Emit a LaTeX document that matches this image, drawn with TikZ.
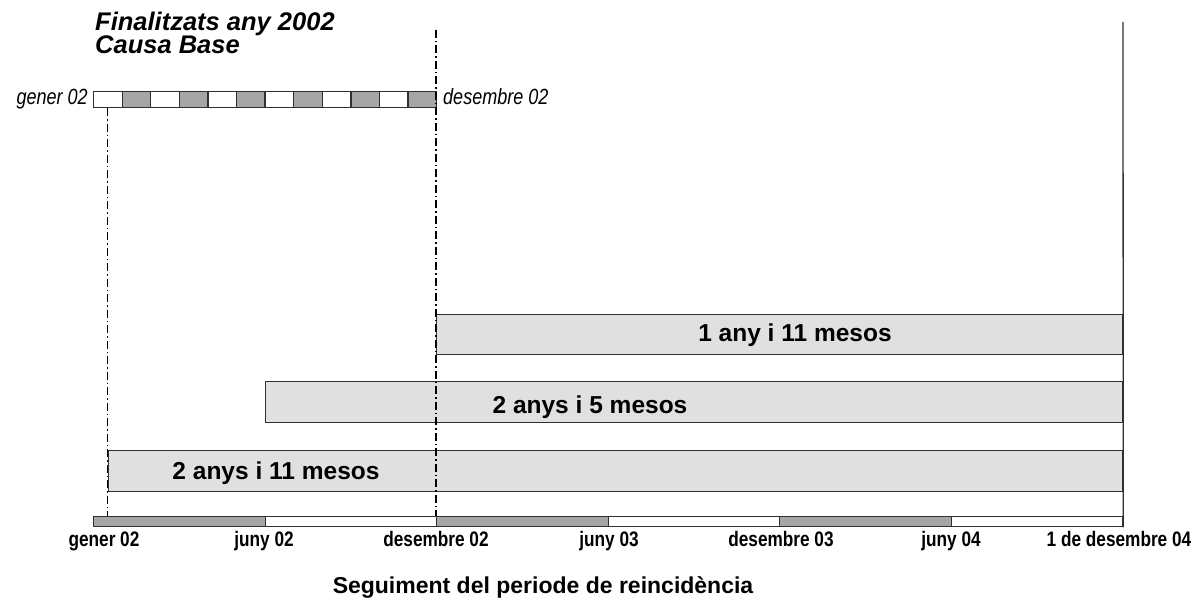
\documentclass[tikz,border=0pt]{standalone}
\usepackage{fontspec}
\setmainfont{Liberation Sans}
\newfontfamily\narrowfont[FakeStretch=0.82]{Liberation Sans}
\usetikzlibrary{positioning}

\definecolor{cellgray}{HTML}{A6A6A6}
\definecolor{barfill}{HTML}{E0E0E0}
\definecolor{edge}{HTML}{303030}

\tikzset{
  cellbox/.style={draw=edge, line width=1.3pt, minimum width=28.58pt, minimum height=16pt, inner sep=0pt, anchor=north west},
  axisseg/.style={draw=edge, line width=1.3pt, minimum width=171.5pt, minimum height=10pt, inner sep=0pt, anchor=north west},
  spanbar/.style={draw=edge, line width=1.3pt, fill=barfill, inner sep=0pt, anchor=north west},
  guide/.style={line width=1.1pt, dash pattern=on 8pt off 3pt on 1.5pt off 3pt},
  spantext/.style={font=\bfseries\fontsize{24.5}{24.5}\selectfont, anchor=base, inner sep=0pt},
  ticklabel/.style={font=\narrowfont\bfseries\fontsize{21}{21}\selectfont, anchor=base, inner sep=0pt},
  monthlabel/.style={font=\narrowfont\itshape\fontsize{22}{22}\selectfont, inner sep=0pt},
  titletext/.style={font=\bfseries\itshape\fontsize{25.5}{25.5}\selectfont, inner sep=0pt},
}

\begin{document}
\begin{tikzpicture}[x=1pt, y=-1pt]
\useasboundingbox (0,0) rectangle (1203,601);

% title
\node (title) [titletext, anchor=north west, align=left] at (95,12) {Finalitzats any 2002\\[-3pt]Causa Base};

% months of 2002
\foreach \i in {0,2,...,10}
  \node (m\i) [cellbox, fill=white] at ({93+\i*28.58},91) {};
\foreach \i in {1,3,...,11}
  \node (m\i) [cellbox, fill=cellgray] at ({93+\i*28.58},91) {};
\node (gener) [monthlabel, anchor=base east] at (88,105) {gener 02};
\node (desembre) [monthlabel, anchor=base west] at (443,105) {desembre 02};

% time axis
\foreach \i in {0,2,4}
  \node (seg\i) [axisseg, fill=cellgray] at ({93+\i*171.5},516) {};
\foreach \i in {1,3,5}
  \node (seg\i) [axisseg, fill=white] at ({93+\i*171.5},516) {};

% follow-up periods
\node (bar1) [spanbar, minimum width=686pt, minimum height=40pt] at (436,314) {};
\node (bar2) [spanbar, minimum width=857pt, minimum height=41pt] at (265,381) {};
\node (bar3) [spanbar, minimum width=1014pt, minimum height=41pt] at (108,450) {};
\node (t1) [spantext] at (795,342) {1 any i 11 mesos};
\node (t2) [spantext] at (590,414) {2 anys i 5 mesos};
\node (t3) [spantext] at (276,480) {2 anys i 11 mesos};

% guide lines
\coordinate (dectop) at (436,30);
\coordinate (endtop) at (1123,22);
\draw [guide] (m0.south) -- (m0.south |- seg0.north);
\draw [guide] (dectop) -- (seg2.north west);
\draw [line width=1.3pt, color=edge] (endtop) -- (seg5.south east);

% axis labels
\node (l0) [ticklabel] at (104,547) {gener 02};
\node (l1) [ticklabel] at (264,547) {juny 02};
\node (l2) [ticklabel] at (436,547) {desembre 02};
\node (l3) [ticklabel] at (609,547) {juny 03};
\node (l4) [ticklabel] at (781,547) {desembre 03};
\node (l5) [ticklabel] at (951,547) {juny 04};
\node (l6) [ticklabel] at (1119,547) {1 de desembre 04};

\node (axistitle) [font=\bfseries\fontsize{23}{23}\selectfont, anchor=base, inner sep=0pt] at (543,593) {Seguiment del periode de reincidència};
\end{tikzpicture}
\end{document}
